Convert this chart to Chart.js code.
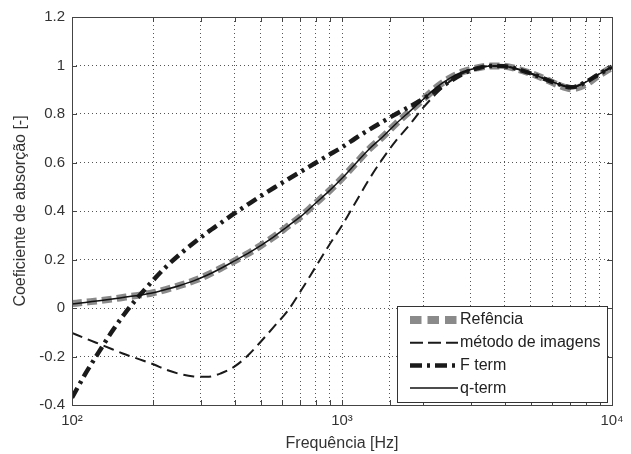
<!DOCTYPE html>
<html>
<head>
<meta charset="utf-8">
<script src="https://cdn.jsdelivr.net/npm/chart.js@4.4.1/dist/chart.umd.min.js"></script>
<style>
  html, body { margin: 0; padding: 0; background: #fff; }
</style>
</head>
<body>
<canvas id="chart" width="631" height="454"></canvas>
<script>
// frequências (Hz), 20 pontos por década
const freqs = [100, 112, 126, 141, 158, 178, 200, 224, 251, 282,
  316, 355, 398, 447, 501, 562, 631, 708, 794, 891,
  1000, 1122, 1259, 1413, 1585, 1778, 1995, 2239, 2512, 2818,
  3162, 3548, 3981, 4467, 5012, 5623, 6310, 7079, 7943, 8913, 10000];

const referencia = [0.018, 0.024, 0.030, 0.037, 0.045, 0.053, 0.063, 0.077, 0.093, 0.112,
  0.135, 0.163, 0.193, 0.224, 0.258, 0.295, 0.338, 0.380, 0.430, 0.480,
  0.535, 0.595, 0.655, 0.705, 0.760, 0.810, 0.860, 0.910, 0.948, 0.975,
  0.990, 0.998, 0.997, 0.985, 0.967, 0.945, 0.920, 0.904, 0.920, 0.958, 0.993];

const imagens = [-0.103, -0.125, -0.148, -0.170, -0.192, -0.212, -0.232, -0.255, -0.272, -0.282,
  -0.284, -0.270, -0.243, -0.197, -0.138, -0.075, -0.010, 0.075, 0.165, 0.255,
  0.340, 0.435, 0.530, 0.615, 0.690, 0.755, 0.825, 0.885, 0.935, 0.970,
  0.990, 0.998, 0.997, 0.985, 0.967, 0.945, 0.924, 0.910, 0.930, 0.963, 0.995];

const fTerm = [-0.370, -0.272, -0.180, -0.095, -0.018, 0.052, 0.115, 0.172, 0.222, 0.268,
  0.310, 0.350, 0.389, 0.426, 0.462, 0.497, 0.531, 0.564, 0.597, 0.630,
  0.663, 0.700, 0.735, 0.768, 0.800, 0.830, 0.862, 0.898, 0.935, 0.967,
  0.988, 0.998, 0.997, 0.985, 0.967, 0.945, 0.924, 0.910, 0.930, 0.963, 0.995];

const qTerm = [0.016, 0.023, 0.030, 0.037, 0.045, 0.053, 0.063, 0.077, 0.093, 0.112,
  0.135, 0.163, 0.193, 0.224, 0.258, 0.295, 0.338, 0.380, 0.430, 0.480,
  0.535, 0.595, 0.655, 0.705, 0.760, 0.810, 0.860, 0.910, 0.948, 0.975,
  0.990, 0.998, 0.997, 0.985, 0.967, 0.945, 0.924, 0.910, 0.930, 0.963, 0.995];

const yTicks = [-0.4, -0.2, 0, 0.2, 0.4, 0.6, 0.8, 1, 1.2];
const xTickLabels = { 100: '10²', 1000: '10³', 10000: '10⁴' };

const FONT = "'Liberation Sans', Arial, sans-serif";
Chart.defaults.font.family = FONT;
Chart.defaults.font.size = 15;
Chart.defaults.color = '#333';

function pts(values) {
  return freqs.map((f, i) => ({ x: f, y: values[i] }));
}

// caixa dos eixos + marcas para dentro + legenda (estilo matlab)
const matlabBox = {
  id: 'matlabBox',
  afterDraw(chart) {
    const { ctx, chartArea: a, scales } = chart;
    ctx.save();
    ctx.strokeStyle = '#444';
    ctx.lineWidth = 1;
    ctx.setLineDash([]);
    ctx.beginPath();
    scales.x.ticks.forEach(t => {
      const px = Math.round(scales.x.getPixelForValue(t.value)) + 0.5;
      ctx.moveTo(px, a.bottom); ctx.lineTo(px, a.bottom - 5);
      ctx.moveTo(px, a.top); ctx.lineTo(px, a.top + 5);
    });
    scales.y.ticks.forEach(t => {
      const py = Math.round(scales.y.getPixelForValue(t.value)) + 0.5;
      ctx.moveTo(a.left, py); ctx.lineTo(a.left + 5, py);
      ctx.moveTo(a.right, py); ctx.lineTo(a.right - 5, py);
    });
    ctx.stroke();
    ctx.strokeRect(Math.round(a.left) + 0.5, Math.round(a.top) + 0.5,
      Math.round(a.right - a.left), Math.round(a.bottom - a.top));

    // legenda
    const w = 210, h = 96;
    const x0 = Math.round(a.right) - 5 - w, y0 = Math.round(a.bottom) - 3 - h;
    ctx.fillStyle = '#fff';
    ctx.fillRect(x0, y0, w, h);
    ctx.strokeStyle = '#333';
    ctx.strokeRect(x0 + 0.5, y0 + 0.5, w, h);
    chart.data.datasets.forEach((ds, i) => {
      const y = y0 + 14 + i * 22.7;
      ctx.beginPath();
      ctx.setLineDash(ds.legendDash || []);
      ctx.lineWidth = ds.legendWidth || ds.borderWidth;
      ctx.strokeStyle = ds.borderColor;
      ctx.moveTo(x0 + 13, y);
      ctx.lineTo(x0 + 61, y);
      ctx.stroke();
      ctx.setLineDash([]);
      ctx.fillStyle = '#222';
      ctx.font = '16px ' + FONT;
      ctx.textBaseline = 'middle';
      ctx.textAlign = 'left';
      ctx.fillText(ds.label, x0 + 63, y);
    });
    ctx.restore();
  }
};

new Chart(document.getElementById('chart'), {
  type: 'line',
  data: {
    datasets: [
      {
        label: 'Refência',
        data: pts(referencia),
        borderColor: '#8a8a8a',
        borderWidth: 7,
        borderDash: [10, 5],
        legendDash: [11.5, 6],
        legendWidth: 8,
        order: 4
      },
      {
        label: 'método de imagens',
        data: pts(imagens),
        borderColor: '#1a1a1a',
        borderWidth: 2,
        borderDash: [11, 6],
        legendDash: [13, 5],
        order: 3
      },
      {
        label: 'F term',
        data: pts(fTerm),
        borderColor: '#1a1a1a',
        borderWidth: 4.5,
        borderDash: [11, 5, 3, 5],
        legendDash: [12, 5, 3, 5],
        order: 2
      },
      {
        label: 'q-term',
        data: pts(qTerm),
        borderColor: '#111',
        borderWidth: 1.5,
        order: 1
      }
    ]
  },
  options: {
    responsive: false,
    animation: false,
    events: [],
    layout: { padding: { top: 17, right: 19, left: 0, bottom: 0 } },
    elements: {
      point: { radius: 0 },
      line: { cubicInterpolationMode: 'monotone', borderCapStyle: 'butt', fill: false }
    },
    plugins: { legend: { display: false }, tooltip: { enabled: false } },
    scales: {
      x: {
        type: 'logarithmic',
        min: 100,
        max: 10000,
        afterFit(scale) { scale.height = 49; },
        grid: { color: '#555', lineWidth: 1, drawTicks: false },
        border: { display: false, dash: [1, 3] },
        ticks: {
          autoSkip: false,
          maxRotation: 0,
          padding: 7,
          color: '#333',
          callback: v => xTickLabels[Math.round(v)] || ''
        },
        title: { display: true, text: 'Frequência [Hz]', color: '#333', font: { size: 16 }, padding: { top: 0, bottom: 1 } }
      },
      y: {
        min: -0.4,
        max: 1.2,
        afterFit(scale) { scale.width = 72; },
        afterBuildTicks(scale) { scale.ticks = yTicks.map(v => ({ value: v })); },
        grid: { color: '#555', lineWidth: 1, drawTicks: false },
        border: { display: false, dash: [1, 3] },
        ticks: {
          padding: 7,
          color: '#333',
          callback: v => String(Number(v.toFixed(1)))
        },
        title: { display: true, text: 'Coeficiente de absorção [-]', color: '#333', font: { size: 16 }, padding: { top: 11, bottom: 0 } }
      }
    }
  },
  plugins: [matlabBox]
});
</script>
</body>
</html>
